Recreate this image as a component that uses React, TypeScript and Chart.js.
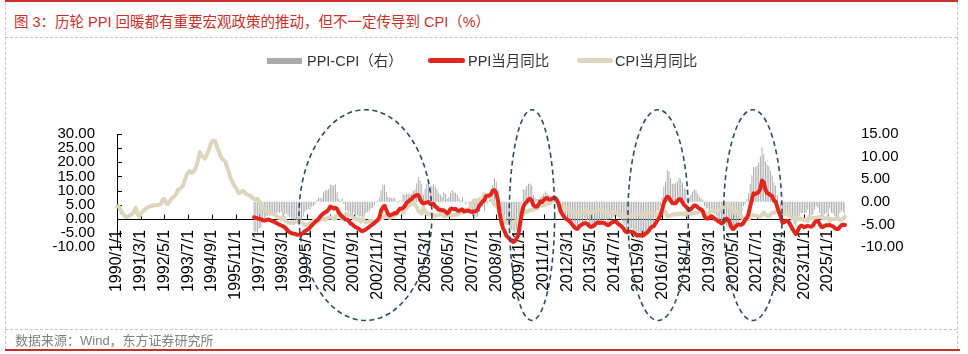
import React, { useEffect, useRef } from 'react';
import { Chart, registerables } from 'chart.js';

Chart.register(...registerables);

// ---------- data ----------
const START_YEAR = 1990; // first month: 1990/1
const PPI_START_INDEX = 81; // PPI starts 1996/10
const LABEL_STEP = 14; // a date label every 14 months

// CPI YoY (%), monthly 1990/1 - 2025/11
const CPI = [
  4.3, 4.4, 3.4, 2.0, 1.5, 0.7, 0.6, 1.0, 1.2, 1.9, 2.3, 3.9,
  2.0, 0.8, 1.6, 2.5, 3.0, 3.6, 4.0, 4.3, 4.5, 4.6, 4.8, 4.8,
  4.9, 5.0, 5.3, 6.8, 7.0, 5.5, 5.2, 6.0, 7.0, 7.5, 8.0, 8.8,
  10.3, 10.5, 11.0, 11.8, 13.5, 15.3, 16.4, 16.9, 16.2, 16.5, 17.5, 18.8,
  21.1, 23.6, 22.4, 21.7, 21.3, 22.6, 24.0, 25.8, 27.3, 27.7, 27.5, 25.5,
  24.1, 22.4, 21.3, 20.7, 20.3, 18.2, 16.7, 14.5, 13.2, 11.9, 11.2, 10.1,
  9.0, 9.3, 9.8, 9.7, 8.9, 8.6, 8.3, 8.1, 7.4, 7.0, 6.9, 7.0,
  5.9, 5.6, 4.0, 3.2, 2.8, 2.8, 2.7, 1.9, 1.8, 1.5, 1.1, 0.4,
  0.3, -0.1, 0.7, -0.3, -1.0, -1.3, -1.4, -1.4, -1.5, -1.1, -1.2, -1.0,
  -1.2, -1.3, -1.8, -2.2, -2.2, -2.1, -1.4, -1.3, -0.8, -0.6, -0.9, -1.0,
  -0.2, 0.7, -0.2, -0.3, 0.1, 0.5, 0.5, 0.3, 0.0, 0.0, 1.3, 1.5,
  1.2, 0.0, 0.8, 1.6, 1.7, 1.4, 1.5, 1.0, -0.1, 0.2, -0.3, -0.3,
  -1.0, 0.0, -0.8, -1.3, -1.1, -0.8, -0.9, -0.7, -0.7, -0.8, -0.7, -0.4,
  0.4, 0.2, 0.9, 1.0, 0.7, 0.3, 0.5, 0.9, 1.1, 1.8, 3.0, 3.2,
  3.2, 2.1, 3.0, 3.8, 4.4, 5.0, 5.3, 5.3, 5.2, 4.3, 2.8, 2.4,
  1.9, 3.9, 2.7, 1.8, 1.8, 1.6, 1.8, 1.3, 0.9, 1.2, 1.3, 1.6,
  1.9, 0.9, 0.8, 1.2, 1.4, 1.5, 1.0, 1.3, 1.5, 1.4, 1.9, 2.8,
  2.2, 2.7, 3.3, 3.0, 3.4, 4.4, 5.6, 6.5, 6.2, 6.5, 6.9, 6.5,
  7.1, 8.7, 8.3, 8.5, 7.7, 7.1, 6.3, 4.9, 4.6, 4.0, 2.4, 1.2,
  1.0, -1.6, -1.2, -1.5, -1.4, -1.7, -1.8, -1.2, -0.8, -0.5, 0.6, 1.9,
  1.5, 2.7, 2.4, 2.8, 3.1, 2.9, 3.3, 3.5, 3.6, 4.4, 5.1, 4.6,
  4.9, 4.9, 5.4, 5.3, 5.5, 6.4, 6.5, 6.2, 6.1, 5.5, 4.2, 4.1,
  4.5, 3.2, 3.6, 3.4, 3.0, 2.2, 1.8, 2.0, 1.9, 1.7, 2.0, 2.5,
  2.0, 3.2, 2.1, 2.4, 2.1, 2.7, 2.7, 2.6, 3.1, 3.2, 3.0, 2.5,
  2.5, 2.0, 2.4, 1.8, 2.5, 2.3, 2.3, 2.0, 1.6, 1.6, 1.4, 1.5,
  0.8, 1.4, 1.4, 1.5, 1.2, 1.4, 1.6, 2.0, 1.6, 1.3, 1.5, 1.6,
  1.8, 2.3, 2.3, 2.3, 2.0, 1.9, 1.8, 1.3, 1.9, 2.1, 2.3, 2.1,
  2.5, 0.8, 0.9, 1.2, 1.5, 1.5, 1.4, 1.8, 1.6, 1.9, 1.7, 1.8,
  1.5, 2.9, 2.1, 1.8, 1.8, 1.9, 2.1, 2.3, 2.5, 2.5, 2.2, 1.9,
  1.7, 1.5, 2.3, 2.5, 2.7, 2.7, 2.8, 2.8, 3.0, 3.8, 4.5, 4.5,
  5.4, 5.2, 4.3, 3.3, 2.4, 2.5, 2.7, 2.4, 1.7, 0.5, -0.5, 0.2,
  -0.3, -0.2, 0.4, 0.9, 1.3, 1.1, 1.0, 0.8, 0.7, 1.5, 2.3, 1.5,
  0.9, 0.9, 1.5, 2.1, 2.1, 2.5, 2.7, 2.5, 2.8, 2.1, 1.6, 1.8,
  2.1, 1.0, 0.7, 0.1, 0.2, 0.0, -0.3, 0.1, 0.0, -0.2, -0.5, -0.3,
  -0.8, 0.7, 0.1, 0.3, 0.3, 0.2, 0.5, 0.6, 0.4, 0.3, 0.2, 0.1,
  0.5, -0.7, -0.1, -0.1, -0.1, 0.1, 0.0, -0.4, -0.3, 0.2, 0.7,
];

// PPI YoY (%), monthly 1996/10 - 2025/11
const PPI = [
  0.5, 0.3, 0.1,
  0.0, -0.2, -0.5, -0.6, -0.5, -0.3, -0.4, -0.7, -0.9, -1.1, -1.5, -1.8,
  -2.1, -2.4, -2.6, -3.0, -3.6, -4.3, -4.8, -5.1, -5.3, -5.3, -5.6, -5.7,
  -5.6, -5.4, -5.0, -4.4, -4.0, -3.7, -3.1, -2.4, -1.8, -1.2, -0.6, -0.1,
  0.7, 1.4, 1.9, 2.3, 2.6, 3.3, 4.3, 4.0, 3.6, 3.9, 3.4, 2.2,
  1.4, 0.8, 0.3, -0.3, -0.3, -0.8, -1.7, -2.0, -2.6, -3.0, -3.3, -3.6,
  -4.2, -4.4, -4.1, -3.8, -3.3, -2.9, -2.4, -2.0, -1.5, -1.0, -0.4, 0.5,
  2.9, 4.0, 4.6, 3.2, 1.8, 1.2, 1.4, 1.7, 2.0, 1.9, 2.7, 3.5,
  3.5, 3.9, 4.5, 5.6, 6.1, 6.6, 7.0, 7.7, 8.0, 8.4, 8.3, 7.1,
  5.8, 5.4, 5.6, 5.8, 5.9, 5.2, 5.2, 5.3, 4.3, 4.0, 3.2, 3.2,
  3.0, 3.0, 2.5, 1.9, 2.4, 3.5, 3.6, 3.4, 3.5, 2.9, 2.8, 3.1,
  3.3, 2.6, 2.7, 2.9, 2.8, 2.5, 2.4, 2.6, 2.7, 3.2, 4.6, 5.4,
  6.1, 6.6, 8.0, 8.1, 8.2, 8.8, 10.0, 10.1, 9.1, 6.6, 2.0, -1.1,
  -3.3, -4.5, -6.0, -6.6, -7.2, -7.8, -8.2, -7.9, -7.0, -5.8, -2.1, 1.7,
  4.3, 5.4, 5.9, 6.8, 7.1, 6.4, 4.8, 4.3, 4.3, 5.0, 6.1, 5.9,
  6.6, 7.2, 7.3, 6.8, 6.8, 7.1, 7.5, 7.3, 6.5, 5.0, 2.7, 1.7,
  0.7, 0.0, -0.3, -0.7, -1.4, -2.1, -2.9, -3.5, -3.6, -2.8, -2.2, -1.9,
  -1.6, -1.6, -1.9, -2.6, -2.9, -2.7, -2.3, -1.6, -1.3, -1.5, -1.4, -1.4,
  -1.6, -2.0, -2.3, -2.0, -1.4, -1.1, -0.9, -1.2, -1.8, -2.2, -2.7, -3.3,
  -4.3, -4.8, -4.6, -4.6, -4.6, -4.8, -5.4, -5.9, -5.9, -5.9, -5.9, -5.9,
  -5.3, -4.9, -4.3, -3.4, -2.8, -2.6, -1.7, -0.8, 0.1, 1.2, 3.3, 5.5,
  6.9, 7.8, 7.6, 6.4, 5.5, 5.5, 5.5, 6.3, 6.9, 6.9, 5.8, 4.9,
  4.3, 3.7, 3.1, 3.4, 4.1, 4.7, 4.6, 4.1, 3.6, 3.3, 2.7, 0.9,
  0.1, 0.1, 0.4, 0.9, 0.6, 0.0, -0.3, -0.8, -1.2, -1.6, -1.4, -0.5,
  0.1, -0.4, -1.5, -3.1, -3.7, -3.0, -2.4, -2.0, -2.1, -2.1, -1.5, -0.4,
  0.3, 1.7, 4.4, 6.8, 9.0, 8.8, 9.0, 9.5, 10.7, 13.5, 12.9, 10.3,
  9.1, 8.8, 8.3, 8.0, 6.4, 6.1, 4.2, 2.3, 0.9, -1.3, -1.3, -0.7,
  -0.8, -1.4, -2.5, -3.6, -4.6, -5.4, -4.4, -3.0, -2.5, -2.6, -3.0, -2.7,
  -2.5, -2.7, -2.8, -2.5, -1.4, -0.8, -0.8, -1.8, -2.8, -2.9, -2.5, -2.3,
  -2.3, -2.2, -2.5, -2.7, -3.3, -3.6, -3.6, -2.9, -2.3, -2.1, -2.2,
];

const LEFT_MIN = -10;
const LEFT_MAX = 30;
const RIGHT_MIN = -10;
const RIGHT_MAX = 15;
const TICK_STEP = 5;

// dashed ellipse annotations: [start month index, end month index]
const ELLIPSE_RANGES = [
  [107.5, 186],
  [231.7, 258.5],
  [301.8, 337.5],
  [358.3, 392.8],
];
const ELLIPSE_TOP_VALUE = 38.6; // left-axis value at the ellipse top
const ELLIPSE_BOTTOM_VALUE = -36; // left-axis value at the ellipse bottom

const SERIES_NAMES = ['PPI-CPI（右）', 'PPI当月同比', 'CPI当月同比'];
const TITLE = '图 3：历轮 PPI 回暖都有重要宏观政策的推动，但不一定传导到 CPI（%）';
const SOURCE = '数据来源：Wind，东方证券研究所';

// ---------- helpers ----------
function buildMonthLabels(n: number): string[] {
  const out: string[] = [];
  for (let i = 0; i < n; i++) {
    const y = START_YEAR + Math.floor(i / 12);
    const m = (i % 12) + 1;
    out.push(`${y}/${m}/1`);
  }
  return out;
}

const FONT = '"Liberation Sans", Arial, sans-serif';
const CJK = '"Liberation Sans", Arial, "Noto Sans CJK SC", sans-serif';
const RED = '#e2261c';
const BEIGE = '#ddd5be';
const GREY = '#a9a9a9';

const axisPlugin = {
  id: 'axisPlugin',
  beforeDatasetsDraw(chart: any) {
    const { ctx, chartArea, scales } = chart;
    const xs = scales.x;
    const ys = scales.y;
    const y0 = ys.getPixelForValue(0);
    ctx.save();
    ctx.strokeStyle = '#000';
    ctx.lineWidth = 1;
    ctx.beginPath();
    ctx.moveTo(Math.round(chartArea.left) + 0.5, chartArea.top);
    ctx.lineTo(Math.round(chartArea.left) + 0.5, chartArea.bottom);
    for (let v = LEFT_MIN; v <= LEFT_MAX; v += TICK_STEP) {
      const py = Math.round(ys.getPixelForValue(v)) + 0.5;
      ctx.moveTo(chartArea.left, py);
      ctx.lineTo(chartArea.left + 5, py);
    }
    const py0 = Math.round(y0) + 0.5;
    ctx.moveTo(chartArea.left, py0);
    ctx.lineTo(chartArea.right, py0);
    for (let i = 0; i < xs.ticks.length; i += LABEL_STEP) {
      const px = Math.round(xs.getPixelForValue(i)) + 0.5;
      ctx.moveTo(px, py0 - 5);
      ctx.lineTo(px, py0);
    }
    ctx.stroke();
    ctx.restore();
  },
  afterDraw(chart: any) {
    const { ctx, scales } = chart;
    const xs = scales.x;
    const ys = scales.y;
    const top = ys.getPixelForValue(ELLIPSE_TOP_VALUE);
    const bottom = ys.getPixelForValue(ELLIPSE_BOTTOM_VALUE);
    ctx.save();
    ctx.strokeStyle = '#2f4a62';
    ctx.lineWidth = 1.6;
    ctx.setLineDash([5, 3.5]);
    for (const [a, b] of ELLIPSE_RANGES) {
      const x1 = xs.getPixelForValue(a);
      const x2 = xs.getPixelForValue(b);
      ctx.beginPath();
      ctx.ellipse((x1 + x2) / 2, (top + bottom) / 2, (x2 - x1) / 2, (bottom - top) / 2, 0, 0, Math.PI * 2);
      ctx.stroke();
    }
    ctx.restore();
  },
};

export default function App() {
  const canvasRef = useRef<HTMLCanvasElement | null>(null);

  useEffect(() => {
    const canvas = canvasRef.current;
    if (!canvas) return;
    const labels = buildMonthLabels(CPI.length);
    const ppiFull = labels.map((_, i) => (i >= PPI_START_INDEX ? PPI[i - PPI_START_INDEX] : null));
    const spread = ppiFull.map((p, i) => (p === null ? null : Math.round((p - CPI[i]) * 10) / 10));

    const chart = new Chart(canvas, {
      type: 'bar',
      data: {
        labels,
        datasets: [
          {
            type: 'line',
            label: SERIES_NAMES[1],
            data: ppiFull,
            yAxisID: 'y',
            borderColor: RED,
            backgroundColor: RED,
            borderWidth: 4,
            pointRadius: 0,
            tension: 0,
            borderJoinStyle: 'round',
            borderCapStyle: 'round',
            spanGaps: false,
          } as any,
          {
            type: 'line',
            label: SERIES_NAMES[2],
            data: CPI,
            yAxisID: 'y',
            borderColor: BEIGE,
            backgroundColor: BEIGE,
            borderWidth: 4,
            pointRadius: 0,
            tension: 0,
            borderJoinStyle: 'round',
            borderCapStyle: 'round',
          } as any,
          {
            type: 'bar',
            label: SERIES_NAMES[0],
            data: spread,
            yAxisID: 'y1',
            backgroundColor: GREY,
            barPercentage: 0.55,
            categoryPercentage: 1.0,
          } as any,
        ],
      },
      options: {
        animation: false,
        responsive: false,
        devicePixelRatio: 1,
        layout: { padding: { top: 134, bottom: 107, left: 0, right: 0 } },
        plugins: {
          legend: { display: false },
          tooltip: { enabled: false },
          title: { display: false },
        },
        scales: {
          x: {
            type: 'category',
            position: { y: 0 } as any,
            offset: false,
            grid: { display: false, drawTicks: false },
            border: { display: false },
            ticks: {
              autoSkip: false,
              maxRotation: 90,
              minRotation: 90,
              padding: 11,
              color: '#000',
              font: { family: FONT, size: 16 },
              callback: (_v: any, i: number) => (i % LABEL_STEP === 0 ? labels[i] : ''),
            },
          },
          y: {
            position: 'left',
            min: LEFT_MIN,
            max: LEFT_MAX,
            grid: { display: false, drawTicks: false },
            border: { display: false },
            ticks: {
              stepSize: TICK_STEP,
              autoSkip: false,
              padding: 22,
              color: '#000',
              font: { family: FONT, size: 15 },
              callback: (v: any) => Number(v).toFixed(2),
            },
            afterFit: (s: any) => {
              s.width = 117;
            },
          },
          y1: {
            position: 'right',
            min: RIGHT_MIN,
            max: RIGHT_MAX,
            grid: { display: false, drawTicks: false },
            border: { display: false },
            ticks: {
              stepSize: TICK_STEP,
              autoSkip: false,
              padding: 16,
              color: '#000',
              font: { family: FONT, size: 15 },
              callback: (v: any) => Number(v).toFixed(2),
            },
            afterFit: (s: any) => {
              s.width = 123;
            },
          },
        },
      } as any,
      plugins: [axisPlugin],
    });
    return () => chart.destroy();
  }, []);

  const abs = (o: React.CSSProperties): React.CSSProperties => ({ position: 'absolute', ...o });
  const legendText: React.CSSProperties = {
    position: 'absolute',
    top: 52,
    height: 18,
    lineHeight: '18px',
    fontSize: 14.5,
    color: '#333',
    fontFamily: CJK,
    whiteSpace: 'nowrap',
  };

  return (
    <div style={abs({ left: 0, top: 0, width: 968, height: 354, background: '#fff', overflow: 'hidden' })}>
      <div style={abs({ left: 5, top: 0, width: 953, height: 2, background: '#c9302c' })} />
      <div style={abs({ left: 5, top: 2, width: 0, height: 347, borderLeft: '1px dashed #c6c6c6' })} />
      <div style={abs({ left: 957, top: 2, width: 0, height: 347, borderLeft: '1px dashed #c6c6c6' })} />
      <div style={abs({ left: 5, top: 37, width: 952, height: 0, borderTop: '1px dashed #c6c6c6' })} />
      <div style={abs({ left: 5, top: 329, width: 952, height: 0, borderTop: '1px dashed #c6c6c6' })} />
      <div style={abs({ left: 5, top: 349, width: 955, height: 2, background: '#c9302c' })} />
      <div
        style={abs({
          left: 14,
          top: 10,
          height: 24,
          lineHeight: '24px',
          fontSize: 14.5,
          color: '#c9302c',
          fontFamily: CJK,
          whiteSpace: 'nowrap',
        })}
      >
        {TITLE}
      </div>
      <canvas ref={canvasRef} width={968} height={354} style={abs({ left: 0, top: 0, width: 968, height: 354 })} />
      <div style={abs({ left: 267, top: 58, width: 35, height: 6, background: GREY })} />
      <div style={{ ...legendText, left: 307 }}>{SERIES_NAMES[0]}</div>
      <div style={abs({ left: 428, top: 58, width: 37, height: 5, borderRadius: 3, background: RED })} />
      <div style={{ ...legendText, left: 468 }}>{SERIES_NAMES[1]}</div>
      <div style={abs({ left: 577, top: 58, width: 36, height: 5, borderRadius: 3, background: BEIGE })} />
      <div style={{ ...legendText, left: 615 }}>{SERIES_NAMES[2]}</div>
      <div
        style={abs({
          left: 15,
          top: 332,
          height: 18,
          lineHeight: '18px',
          fontSize: 13,
          color: '#808080',
          fontFamily: CJK,
          whiteSpace: 'nowrap',
        })}
      >
        {SOURCE}
      </div>
    </div>
  );
}
